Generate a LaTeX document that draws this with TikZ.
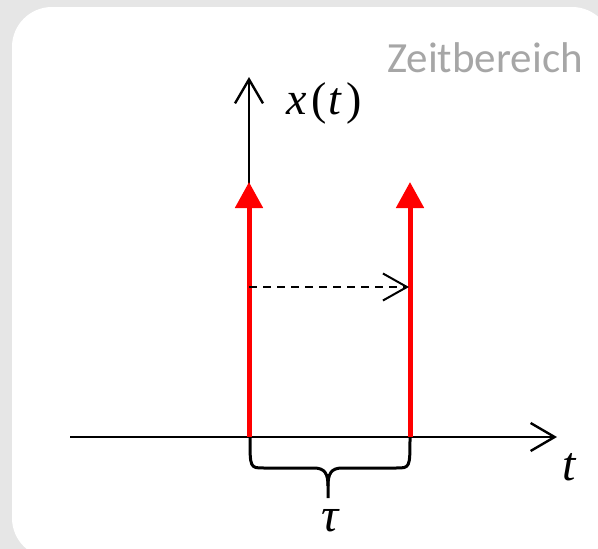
\documentclass[tikz,border=0pt]{standalone}
\usepackage{fontspec}
\setmainfont{Liberation Serif}
\newfontfamily\carl{Carlito}
\usetikzlibrary{arrows.meta}
\definecolor{bggray}{HTML}{E6E6E6}
\definecolor{labgray}{HTML}{A6A6A6}
\definecolor{imp}{HTML}{FF0000}
\tikzset{
  axisline/.style={line width=2.4pt, -{Straight Barb[length=24pt,width=28pt,line width=2.4pt]}},
  impulse/.style={imp, line width=5pt, -{Triangle[length=26pt,width=27pt]}},
  shiftarrow/.style={line width=2pt, dash pattern=on 8pt off 6pt, -{Straight Barb[length=24pt,width=27pt,line width=2pt]}},
  bracepath/.style={line width=3pt, line join=round},
  lab/.style={font=\fontsize{48}{52}\selectfont, inner sep=0pt},
}
\begin{document}
\begin{tikzpicture}[x=1pt,y=-1pt]
\useasboundingbox (0,0) rectangle (598,549);
\fill[bggray] (0,0) rectangle (598,549);
\fill[white, rounded corners=40pt] (12,7) rectangle (612,558);
% coordinates
\coordinate (L) at (70,437);
\coordinate (R) at (557,437);
\coordinate (A) at (249,437);
\coordinate (Atop) at (249,77);
\coordinate (Aimp) at (249,182);
\coordinate (B) at (410,437);
\coordinate (Bimp) at (410,182);
\coordinate (D1) at (249,287);
\coordinate (D2) at (409,287);
% axes
\draw[axisline] (A) -- (Atop);
\draw[axisline] (L) -- (R);
% impulses
\draw[impulse] (A) -- (Aimp);
\draw[impulse] (B) -- (Bimp);
% shift
\draw[shiftarrow] (D1) -- (D2);
% brace
\draw[bracepath] (250,437) .. controls (250,468) and (250,468) .. (264,468) -- (314,468)
  .. controls (325,468) and (328,474) .. (328,486) -- (328,498);
\draw[bracepath] (410,437) .. controls (410,468) and (410,468) .. (396,468) -- (342,468)
  .. controls (331,468) and (328,474) .. (328,486);
% labels
\node[lab, font=\fontsize{46}{50}\selectfont] (xt) at (324,103) {\textit{x}\kern4pt(\kern2pt\textit{t}\kern4pt)};
\node[lab] (tl) at (570,467) {\textit{t}};
\node[lab] (tau) at (331,521) {\textit{τ}};
\node[font=\carl\fontsize{43}{46}\selectfont, text=labgray, inner sep=0pt, anchor=base east] (zb) at (583,72) {Zeitbereich};
\end{tikzpicture}
\end{document}
